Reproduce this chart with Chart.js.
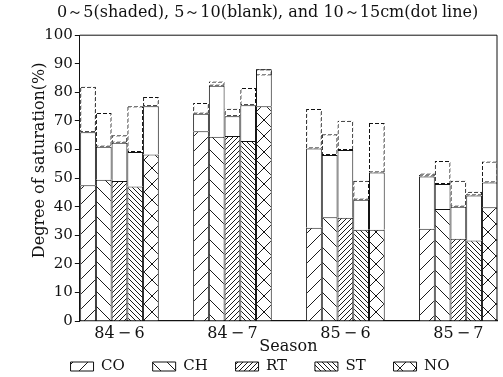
<!DOCTYPE html>
<html>
<head>
<meta charset="utf-8">
<script src="https://cdn.jsdelivr.net/npm/chart.js@4/dist/chart.umd.min.js"></script>
<style>
  html, body { margin: 0; padding: 0; background: #fff; }
</style>
</head>
<body>
<canvas id="chart" width="503" height="377"></canvas>
<script>
const seasons = ["84\u2009−\u20096", "84\u2009−\u20097", "85\u2009−\u20096", "85\u2009−\u20097"];
const soils = ["CO", "CH", "RT", "ST", "NO"];

// degree of saturation (%), one row per soil, one value per season
const depth0to5 = [
  [47.5, 66.4, 32.6, 32.3],
  [49.4, 64.5, 36.3, 39.2],
  [49.0, 64.7, 36.1, 28.8],
  [47.1, 63.0, 31.9, 28.2],
  [58.3, 75.1, 31.9, 39.8],
];
const depth5to10 = [
  [66.0, 72.5, 60.4, 50.6],
  [61.0, 82.3, 58.1, 47.9],
  [62.4, 71.6, 59.8, 40.0],
  [59.1, 75.5, 42.4, 43.9],
  [75.1, 88.1, 52.0, 48.5],
];
const depth10to15 = [
  [82.0, 76.3, 74.2, 51.6],
  [72.8, 83.8, 65.3, 56.0],
  [65.0, 74.3, 70.1, 49.1],
  [75.1, 81.5, 49.1, 45.2],
  [78.4, 85.9, 69.3, 55.8],
];

let canvas = document.getElementById("chart");
let ctx = canvas.getContext("2d");
Chart.defaults.font.family = "'DejaVu Serif', serif";
Chart.defaults.color = "#111";

// hatch tiles: "/" and "\" lines, optional dots at crossings
function hatch(size, dirs, dots) {
  let c = document.createElement("canvas");
  c.width = size;
  c.height = size;
  let g = c.getContext("2d");
  g.fillStyle = "#fff";
  g.fillRect(0, 0, size, size);
  g.strokeStyle = "#1a1a1a";
  g.lineWidth = 1;
  g.beginPath();
  if (dirs.includes("/")) {
    g.moveTo(-1, 1); g.lineTo(1, -1);
    g.moveTo(0, size); g.lineTo(size, 0);
    g.moveTo(size - 1, size + 1); g.lineTo(size + 1, size - 1);
  }
  if (dirs.includes("\\")) {
    g.moveTo(-1, size - 1); g.lineTo(1, size + 1);
    g.moveTo(0, 0); g.lineTo(size, size);
    g.moveTo(size - 1, -1); g.lineTo(size + 1, 1);
  }
  g.stroke();
  if (dots) {
    g.fillStyle = "#111";
    g.fillRect(size / 2 - 1, size / 2 - 1, 2, 2);
  }
  return ctx.createPattern(c, "repeat");
}

// dashed border: diagonal run so both horizontal and vertical edges break up
function dashes() {
  let c = document.createElement("canvas");
  c.width = 6;
  c.height = 6;
  let g = c.getContext("2d");
  g.fillStyle = "#111";
  for (let x = 0; x < 6; x++) {
    for (let y = 0; y < 6; y++) {
      if ((x + y) % 6 < 4) g.fillRect(x, y, 1, 1);
    }
  }
  return ctx.createPattern(c, "repeat");
}

const fills = [
  hatch(15, "/", false),
  hatch(15, "\\", false),
  hatch(5, "/", false),
  hatch(5, "\\", false),
  hatch(16, "/\\", true),
];
const dash = dashes();

let datasets = [];
soils.forEach((soil, i) => {
  datasets.push({
    label: soil + " 10-15cm",
    layer: "dot",
    stack: soil,
    order: 0,
    data: seasons.map((s, j) => ({ x: j, y: [depth5to10[i][j], depth10to15[i][j]] })),
    backgroundColor: "rgba(0,0,0,0)",
    borderColor: dash,
    borderWidth: 1,
    borderSkipped: false,
  });
});
soils.forEach((soil, i) => {
  datasets.push({
    label: soil + " 5-10cm",
    layer: "blank",
    stack: soil,
    order: 1,
    data: seasons.map((s, j) => ({ x: j, y: [depth0to5[i][j], depth5to10[i][j]] })),
    backgroundColor: "#fff",
    borderColor: "#111",
    borderWidth: 1,
    borderSkipped: "start",
  });
});
soils.forEach((soil, i) => {
  datasets.push({
    label: soil,
    layer: "shaded",
    stack: soil,
    order: 2,
    data: seasons.map((s, j) => ({ x: j, y: [0, depth0to5[i][j]] })),
    backgroundColor: fills[i],
    borderColor: "#111",
    borderWidth: 1,
    borderSkipped: "start",
  });
});

// top and right edges of the plot box
const frame = {
  id: "frame",
  afterDatasetsDraw(chart) {
    let a = chart.chartArea;
    let c = chart.ctx;
    c.save();
    c.strokeStyle = "#111";
    c.lineWidth = 1;
    c.beginPath();
    c.moveTo(a.left, a.top);
    c.lineTo(a.right, a.top);
    c.lineTo(a.right, a.bottom);
    c.stroke();
    c.restore();
  },
};

new Chart(ctx, {
  type: "bar",
  data: { datasets: datasets },
  plugins: [frame],
  options: {
    responsive: false,
    animation: false,
    layout: { padding: { left: 23, right: 6, top: 0, bottom: -7 } },
    datasets: { bar: { categoryPercentage: 0.696, barPercentage: 1, inflateAmount: 0 } },
    plugins: {
      tooltip: { enabled: false },
      title: {
        display: true,
        text: "   0～5(shaded), 5～10(blank), and 10～15cm(dot line)",
        font: { size: 16, weight: "normal" },
        padding: { top: 3, bottom: 13 },
      },
      legend: {
        position: "bottom",
        labels: {
          boxWidth: 23,
          boxHeight: 9,
          padding: 4,
          font: { size: 15 },
          // only the shaded layer goes in the key, spaced out like the original
          generateLabels: (chart) =>
            Chart.defaults.plugins.legend.labels.generateLabels(chart)
              .filter((item) => chart.data.datasets[item.datasetIndex].layer === "shaded")
              .map((item, k, all) => {
                if (k < all.length - 1) item.text = item.text + "     ";
                return item;
              }),
        },
      },
    },
    scales: {
      x: {
        type: "linear",
        min: -0.351,
        max: 3.342,
        offset: false,
        afterBuildTicks: (axis) => {
          axis.ticks = seasons.map((s, i) => ({ value: i }));
        },
        grid: { display: false, drawTicks: false },
        border: { display: true, color: "#111", width: 1.2 },
        ticks: {
          callback: (value) => seasons[value],
          font: { size: 16, lineHeight: 1 },
          padding: 5,
          maxRotation: 0,
          autoSkip: false,
        },
        title: {
          display: true,
          text: "Season",
          font: { size: 16, lineHeight: 1 },
          padding: { top: -8, bottom: 0 },
        },
      },
      y: {
        stacked: false,
        min: 0,
        max: 100,
        ticks: { stepSize: 10, font: { size: 15 }, padding: 2 },
        grid: { display: true, drawOnChartArea: false, drawTicks: true, tickLength: 5, color: "#111" },
        border: { color: "#111" },
        title: {
          display: true,
          text: "       Degree of saturation(%)",
          font: { size: 16 },
          padding: { top: 7, bottom: -7 },
        },
      },
    },
  },
});
</script>
</body>
</html>
